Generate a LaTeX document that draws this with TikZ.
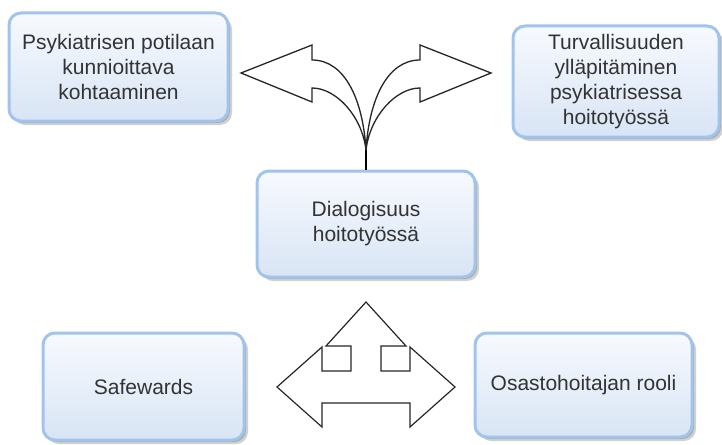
\documentclass[tikz,border=0pt]{standalone}
\usepackage{fontspec}
\setmainfont{Liberation Sans}
\usetikzlibrary{shadows}
\definecolor{boxborder}{RGB}{160,196,236}
\definecolor{boxtop}{RGB}{247,250,254}
\definecolor{boxbot}{RGB}{216,228,245}
\definecolor{txt}{RGB}{51,51,51}
\tikzset{
  box/.style={rounded corners=12pt, draw=boxborder, line width=3pt,
    top color=boxtop, bottom color=boxbot, align=center, text=txt,
    font=\fontsize{21}{25}\selectfont, inner sep=0pt,
    drop shadow={shadow xshift=4pt, shadow yshift=-4pt, opacity=0.18, fill=black},
    drop shadow={shadow xshift=2pt, shadow yshift=-2pt, opacity=0.18, fill=black}},
  blockarrow/.style={draw=black!85, line width=1.3pt, fill=white, line join=miter},
  stemline/.style={draw=black, line width=2.6pt}
}
\begin{document}
\begin{tikzpicture}[x=1pt,y=-1pt]
\useasboundingbox (0,0) rectangle (722,444);
\fill[white] (0,0) rectangle (722,444);
\node[box, minimum width=219pt, minimum height=108pt] (A) at (118.5,67) {Psykiatrisen potilaan\\kunnioittava\\kohtaaminen};
\node[box, minimum width=206pt, minimum height=111pt] (B) at (616,81.5) {Turvallisuuden\\ylläpitäminen\\psykiatrisessa\\hoitotyössä};
\node[box, minimum width=218pt, minimum height=106pt] (C) at (366,224) {Dialogisuus\\hoitotyössä};
\node[box, minimum width=201pt, minimum height=107pt] (D) at (143.5,386.5) {Safewards};
\node[box, minimum width=217pt, minimum height=104pt] (E) at (583.5,385) {Osastohoitajan rooli};
% split arrow from C
\coordinate (M) at (366,150);
\draw[stemline] (366,144) -- (C.north);
\draw[blockarrow] (M) .. controls (363,100) and (345,60) .. (312,60) -- (312,45) -- (241,73) -- (312,102) -- (312,88) .. controls (336,88) and (362,116) .. (M);
\draw[blockarrow] (M) .. controls (369,100) and (387,60) .. (420,60) -- (420,45) -- (491,73) -- (420,102) -- (420,88) .. controls (396,88) and (370,116) .. (M);
% triple arrow
\draw[blockarrow, line width=1.2pt] (366,302) -- (326,346) -- (351,346) -- (351,371) -- (322,371) -- (322,347) -- (277,387) -- (322,427) -- (322,403) -- (410,403) -- (410,427) -- (455,387) -- (410,347) -- (410,371) -- (381,371) -- (381,346) -- (406,346) -- cycle;
\end{tikzpicture}
\end{document}
